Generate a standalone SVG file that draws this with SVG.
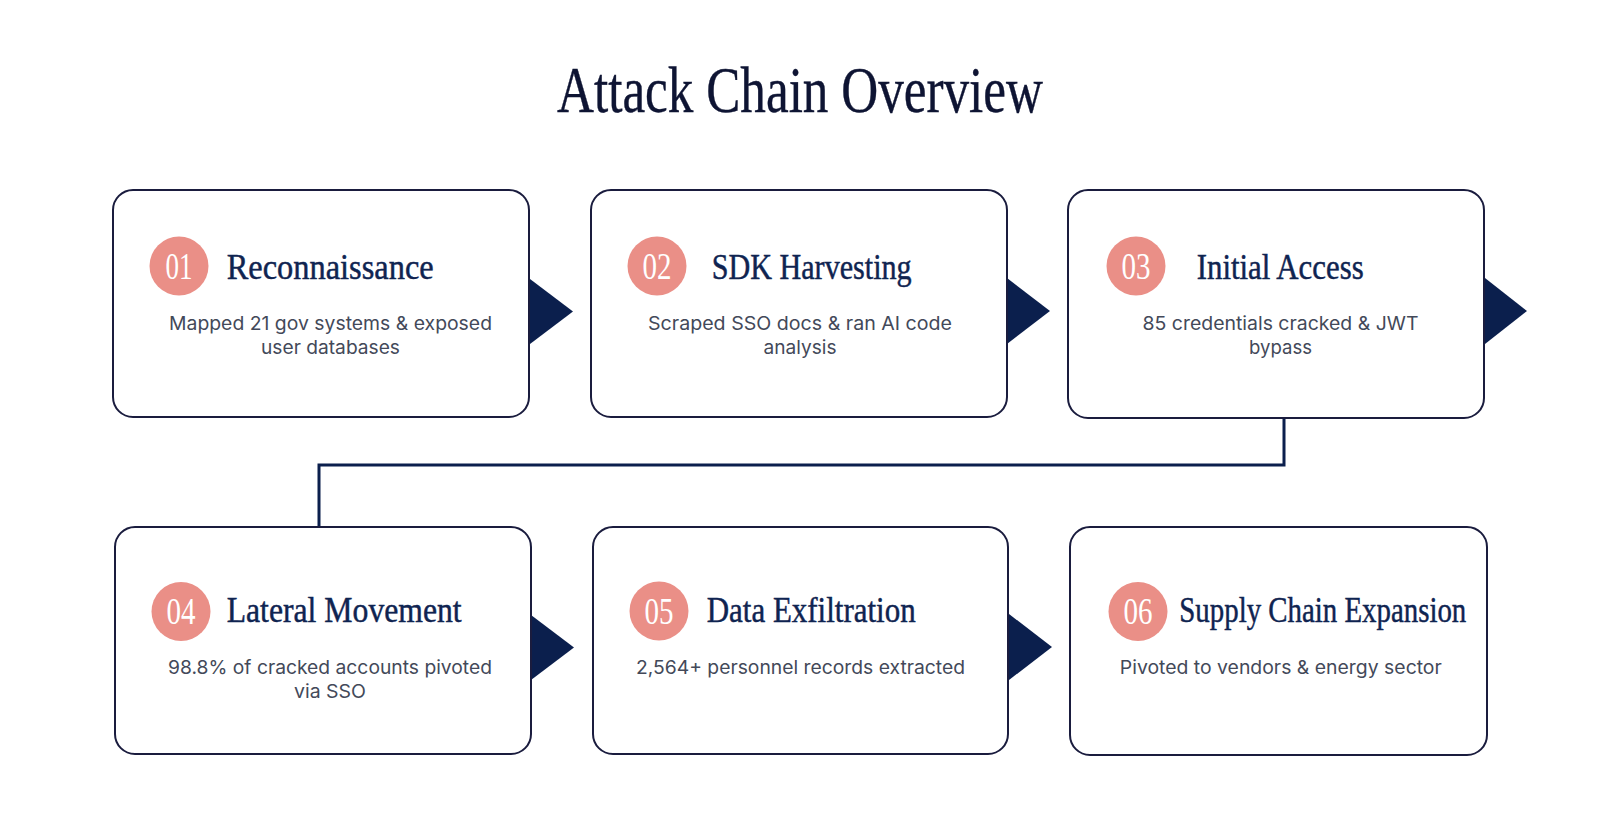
<svg xmlns="http://www.w3.org/2000/svg" width="1600" height="814" viewBox="0 0 1600 814">
<style>
.box{fill:#ffffff;stroke:#1a1c3e;stroke-width:2}
.arr{fill:#0b1f4d}
.circ{fill:#ea8f87}
.num{font-family:"Liberation Serif",serif;font-size:37px;fill:#ffffff;text-anchor:middle}
.ttl{font-family:"Liberation Serif",serif;font-size:35px;fill:#0f2451;stroke:#0f2451;stroke-width:0.45}
.desc{font-family:Inter,"Liberation Sans",sans-serif;font-size:18.5px;fill:#434959;text-anchor:middle}
.conn{fill:none;stroke:#0b1f4d;stroke-width:3}
</style>
<rect width="1600" height="814" fill="#ffffff"/>
<text x="800" y="112" font-family="Liberation Serif, serif" font-size="66" fill="#0e1433" stroke="#0e1433" stroke-width="0.4" text-anchor="middle" textLength="486" lengthAdjust="spacingAndGlyphs">Attack Chain Overview</text>
<g id="connectors">
<path class="conn" d="M1284 418 V465 H319 V527"/>
<polygon class="arr" points="530,279 573,311.5 530,344"/>
<polygon class="arr" points="1007,278 1050,311 1007,344"/>
<polygon class="arr" points="1485,278 1527,311 1485,344"/>
<polygon class="arr" points="531,615 574,647.5 531,680"/>
<polygon class="arr" points="1009,614 1052,647 1009,680"/>
</g>
<g id="node1">
<rect class="box" x="113" y="190" width="416" height="227" rx="20"/>
<circle class="circ" cx="179" cy="266" r="29.5"/>
<text class="num" x="179" y="278.5" textLength="27" lengthAdjust="spacingAndGlyphs">01</text>
<text class="ttl" x="226.7" y="279" textLength="207" lengthAdjust="spacingAndGlyphs">Reconnaissance</text>
<text class="desc" x="330.5" y="330" textLength="323" lengthAdjust="spacingAndGlyphs">Mapped 21 gov systems &amp; exposed</text>
<text class="desc" x="330.5" y="354" textLength="139" lengthAdjust="spacingAndGlyphs">user databases</text>
</g>
<g id="node2">
<rect class="box" x="591" y="190" width="416" height="227" rx="20"/>
<circle class="circ" cx="657" cy="266" r="29.5"/>
<text class="num" x="657" y="278.5" textLength="29" lengthAdjust="spacingAndGlyphs">02</text>
<text class="ttl" x="711.7" y="279" textLength="200" lengthAdjust="spacingAndGlyphs">SDK Harvesting</text>
<text class="desc" x="800" y="330" textLength="304" lengthAdjust="spacingAndGlyphs">Scraped SSO docs &amp; ran AI code</text>
<text class="desc" x="800" y="354" textLength="73" lengthAdjust="spacingAndGlyphs">analysis</text>
</g>
<g id="node3">
<rect class="box" x="1068" y="190" width="416" height="228" rx="20"/>
<circle class="circ" cx="1136" cy="266" r="29.5"/>
<text class="num" x="1136" y="278.5" textLength="29" lengthAdjust="spacingAndGlyphs">03</text>
<text class="ttl" x="1196.7" y="279" textLength="167" lengthAdjust="spacingAndGlyphs">Initial Access</text>
<text class="desc" x="1280.5" y="330" textLength="276" lengthAdjust="spacingAndGlyphs">85 credentials cracked &amp; JWT</text>
<text class="desc" x="1280.5" y="354" textLength="63" lengthAdjust="spacingAndGlyphs">bypass</text>
</g>
<g id="node4">
<rect class="box" x="115" y="527" width="416" height="227" rx="20"/>
<circle class="circ" cx="181" cy="611.5" r="29.5"/>
<text class="num" x="181" y="624" textLength="29" lengthAdjust="spacingAndGlyphs">04</text>
<text class="ttl" x="226.7" y="621.7" textLength="235" lengthAdjust="spacingAndGlyphs">Lateral Movement</text>
<text class="desc" x="330" y="674" textLength="324" lengthAdjust="spacingAndGlyphs">98.8% of cracked accounts pivoted</text>
<text class="desc" x="330" y="698" textLength="72" lengthAdjust="spacingAndGlyphs">via SSO</text>
</g>
<g id="node5">
<rect class="box" x="593" y="527" width="415" height="227" rx="20"/>
<circle class="circ" cx="659" cy="611" r="29.5"/>
<text class="num" x="659" y="623.5" textLength="29" lengthAdjust="spacingAndGlyphs">05</text>
<text class="ttl" x="706.7" y="621.7" textLength="209" lengthAdjust="spacingAndGlyphs">Data Exfiltration</text>
<text class="desc" x="800.5" y="673.5" textLength="329" lengthAdjust="spacingAndGlyphs">2,564+ personnel records extracted</text>
</g>
<g id="node6">
<rect class="box" x="1070" y="527" width="417" height="228" rx="20"/>
<circle class="circ" cx="1138" cy="611.5" r="29.5"/>
<text class="num" x="1138" y="624" textLength="29" lengthAdjust="spacingAndGlyphs">06</text>
<text class="ttl" x="1179.3" y="621.7" textLength="287" lengthAdjust="spacingAndGlyphs">Supply Chain Expansion</text>
<text class="desc" x="1280.8" y="673.5" textLength="322" lengthAdjust="spacingAndGlyphs">Pivoted to vendors &amp; energy sector</text>
</g>
</svg>
